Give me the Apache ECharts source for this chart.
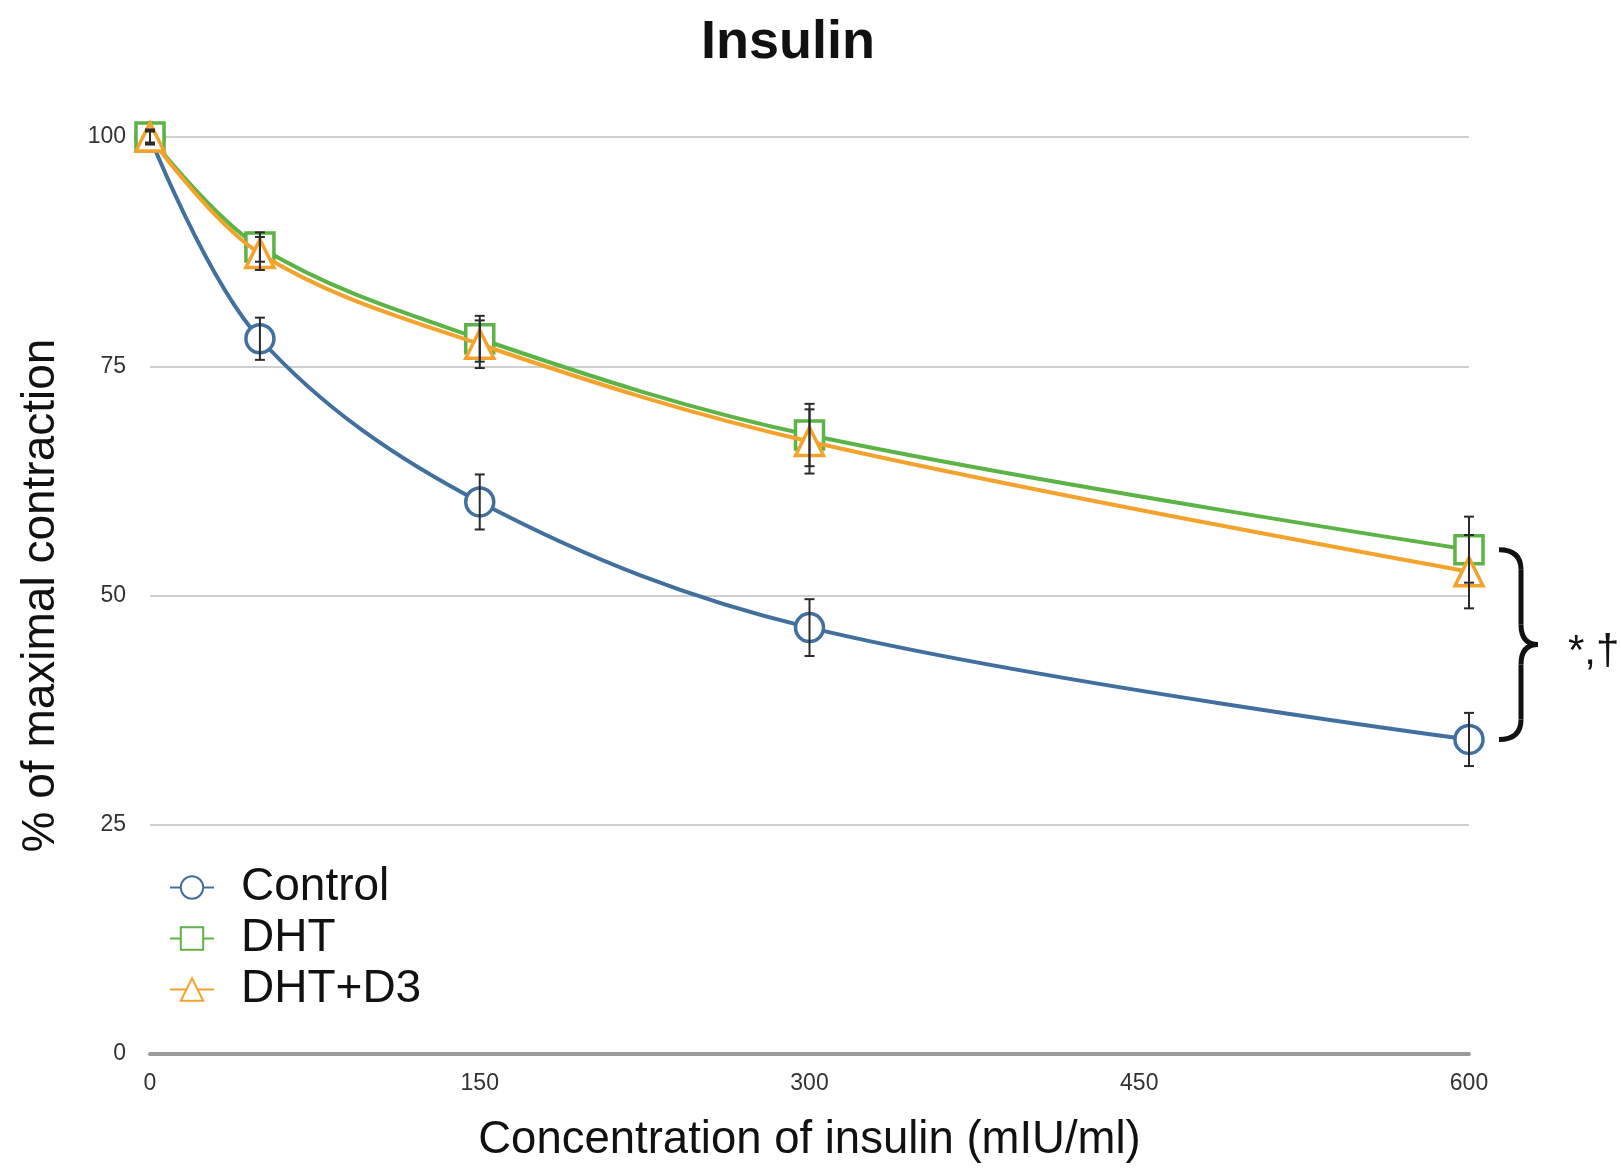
<!DOCTYPE html>
<html>
<head>
<meta charset="utf-8">
<script src="https://cdn.jsdelivr.net/npm/echarts@6/dist/echarts.min.js"></script>
<style>
html,body{margin:0;padding:0;background:#fff;}
#chart{width:1621px;height:1168px;}
</style>
</head>
<body>
<div id="chart"></div>
<script>
const titleText = 'Insulin';
const xAxisName = 'Concentration of insulin (mIU/ml)';
const yAxisName = '% of maximal contraction';
const xValues = [0, 50, 150, 300, 600];
const seriesNames = ['Control', 'DHT', 'DHT+D3'];
const controlValues = [100, 78.0, 60.2, 46.5, 34.3];
const controlErr = [0.6, 2.3, 3.0, 3.1, 2.9];
const dhtValues = [100, 88.0, 78.0, 67.5, 55.0];
const dhtErr = [0.8, 1.6, 2.5, 3.4, 3.6];
const dhtD3Values = [100, 87.3, 77.4, 66.8, 52.6];
const dhtD3Err = [0.8, 1.8, 2.6, 3.5, 4.0];
const annotationText = '*,\u2020';

const colors = ['#41709f', '#5cb346', '#f3a22c'];
const symbols = ['circle', 'rect', 'triangle'];
const valueSets = [controlValues, dhtValues, dhtD3Values];
const errSets = [controlErr, dhtErr, dhtD3Err];

const font = '"Liberation Sans", Arial, Helvetica, sans-serif';
const chart = echarts.init(document.getElementById('chart'), null, {renderer: 'canvas'});

const lineSeries = seriesNames.map((name, i) => ({
  name: name,
  type: 'line',
  smooth: 0.35,
  data: xValues.map((x, j) => [x, valueSets[i][j]]),
  symbol: symbols[i],
  symbolSize: 28,
  showAllSymbol: true,
  lineStyle: {color: colors[i], width: 4},
  itemStyle: {color: '#ffffff', borderColor: colors[i], borderWidth: 3.5},
  z: 3 + i
}));

const errSeries = seriesNames.map((name, i) => ({
  name: name + ' error',
  type: 'custom',
  data: xValues.map((x, j) => [x, valueSets[i][j] - errSets[i][j], valueSets[i][j] + errSets[i][j]]),
  renderItem: function (params, api) {
    const x = api.value(0);
    const lo = api.coord([x, api.value(1)]);
    const hi = api.coord([x, api.value(2)]);
    const cap = 5;
    const st = {stroke: '#2a2a2a', lineWidth: 2};
    return {
      type: 'group',
      children: [
        {type: 'line', shape: {x1: lo[0], y1: lo[1], x2: hi[0], y2: hi[1]}, style: st},
        {type: 'line', shape: {x1: lo[0] - cap, y1: lo[1], x2: lo[0] + cap, y2: lo[1]}, style: st},
        {type: 'line', shape: {x1: hi[0] - cap, y1: hi[1], x2: hi[0] + cap, y2: hi[1]}, style: st}
      ]
    };
  },
  encode: {x: 0, y: [1, 2]},
  z: 10,
  silent: true
}));

const option = {
  backgroundColor: '#ffffff',
  animation: false,
  title: {
    text: titleText,
    left: 696,
    top: 11,
    textStyle: {fontFamily: font, fontSize: 54, fontWeight: 'bold', color: '#111'}
  },
  legend: {
    data: seriesNames,
    orient: 'vertical',
    left: 164,
    top: 858,
    itemWidth: 44,
    itemHeight: 28,
    itemGap: 2,
    textStyle: {fontFamily: font, fontSize: 46, color: '#111', lineHeight: 49, padding: [0, 0, 0, 22]}
  },
  grid: {left: 150, right: 152, top: 137, bottom: 108, containLabel: false},
  xAxis: {
    type: 'value',
    min: 0, max: 600, interval: 150,
    name: xAxisName,
    nameLocation: 'middle',
    nameGap: 63,
    nameTextStyle: {fontFamily: font, fontSize: 45.5, color: '#111'},
    axisLine: {show: true, lineStyle: {color: '#9a9a9a', width: 4}},
    axisTick: {show: false},
    axisLabel: {fontFamily: font, fontSize: 23, color: '#333', margin: 18},
    splitLine: {show: false}
  },
  yAxis: {
    type: 'value',
    min: 0, max: 100, interval: 25,
    name: yAxisName,
    nameLocation: 'middle',
    nameGap: 86,
    nameTextStyle: {fontFamily: font, fontSize: 46, color: '#111'},
    axisLine: {show: false},
    axisTick: {show: false},
    axisLabel: {fontFamily: font, fontSize: 23, color: '#333', margin: 24},
    splitLine: {show: true, lineStyle: {color: '#cfcfcf', width: 2}}
  },
  series: lineSeries.concat(errSeries)
};
chart.setOption(option);

// Brace annotation positioned from the data via the chart's scales
const last = xValues.length - 1;
const pTop = chart.convertToPixel({gridIndex: 0}, [xValues[last], dhtValues[last]]);
const pBot = chart.convertToPixel({gridIndex: 0}, [xValues[last], controlValues[last]]);
const x0 = pTop[0] + 30, x1 = x0 + 22, x2 = x1 + 17;
const yT = pTop[1], yB = pBot[1], yM = (yT + yB) / 2, r = 20;
const bst = {stroke: '#111', lineWidth: 5, fill: null};
chart.setOption({
  graphic: [
    {type: 'bezierCurve', shape: {x1: x0, y1: yT, x2: x1, y2: yT + r, cpx1: x1, cpy1: yT}, style: bst, z: 20},
    {type: 'line', shape: {x1: x1, y1: yT + r, x2: x1, y2: yM - r}, style: bst, z: 20},
    {type: 'bezierCurve', shape: {x1: x1, y1: yM - r, x2: x2, y2: yM, cpx1: x1, cpy1: yM}, style: bst, z: 20},
    {type: 'bezierCurve', shape: {x1: x2, y1: yM, x2: x1, y2: yM + r, cpx1: x1, cpy1: yM}, style: bst, z: 20},
    {type: 'line', shape: {x1: x1, y1: yM + r, x2: x1, y2: yB - r}, style: bst, z: 20},
    {type: 'bezierCurve', shape: {x1: x1, y1: yB - r, x2: x0, y2: yB, cpx1: x1, cpy1: yB}, style: bst, z: 20},
    {type: 'text', x: x2 + 30, y: yM + 8, style: {text: annotationText, fontFamily: font, fontSize: 42, fill: '#111', verticalAlign: 'middle', align: 'left'}, z: 20}
  ]
});
</script>
</body>
</html>
